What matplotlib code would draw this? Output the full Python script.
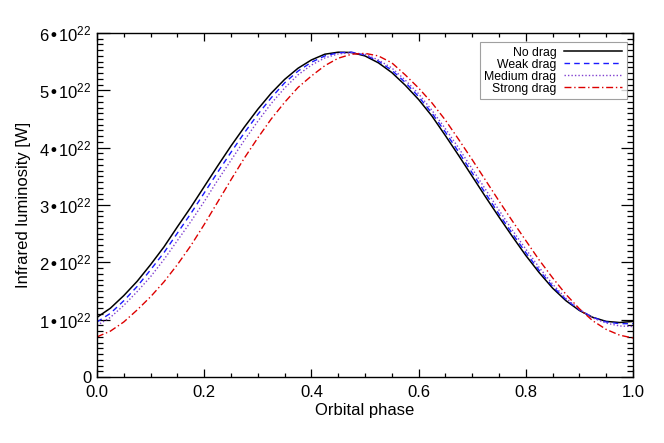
import matplotlib
matplotlib.use("Agg")
import matplotlib.pyplot as plt
from matplotlib.ticker import MultipleLocator

plt.rcParams['font.family'] = ['Liberation Sans', 'DejaVu Sans']
plt.rcParams['mathtext.default'] = 'regular'

phase = [0.000, 0.025, 0.050, 0.075, 0.100, 0.125, 0.150, 0.175, 0.200, 0.225,
         0.250, 0.275, 0.300, 0.325, 0.350, 0.375, 0.400, 0.425, 0.450, 0.475,
         0.500, 0.525, 0.550, 0.575, 0.600, 0.625, 0.650, 0.675, 0.700, 0.725,
         0.750, 0.775, 0.800, 0.825, 0.850, 0.875, 0.900, 0.925, 0.950, 0.975,
         1.000]
# luminosity in units of 1e22 W
no_drag = [1.04, 1.20, 1.42, 1.67, 1.96, 2.27, 2.62, 2.96, 3.32, 3.68,
           4.03, 4.36, 4.67, 4.95, 5.19, 5.385, 5.53, 5.63, 5.665, 5.66,
           5.60, 5.48, 5.31, 5.09, 4.84, 4.55, 4.21, 3.86, 3.50, 3.14,
           2.79, 2.45, 2.12, 1.82, 1.55, 1.33, 1.16, 1.04, 0.97, 0.95,
           0.97]
weak_drag = [0.96, 1.11, 1.33, 1.58, 1.87, 2.17, 2.51, 2.85, 3.21, 3.57,
             3.92, 4.26, 4.58, 4.87, 5.13, 5.335, 5.49, 5.60, 5.655, 5.665,
             5.615, 5.51, 5.35, 5.14, 4.89, 4.60, 4.27, 3.92, 3.56, 3.20,
             2.84, 2.50, 2.17, 1.86, 1.58, 1.35, 1.17, 1.04, 0.96, 0.93,
             0.93]
medium_drag = [0.90, 1.04, 1.25, 1.49, 1.75, 2.05, 2.38, 2.71, 3.06, 3.43,
               3.78, 4.13, 4.46, 4.77, 5.04, 5.27, 5.44, 5.565, 5.635, 5.655,
               5.63, 5.53, 5.39, 5.18, 4.94, 4.65, 4.33, 3.99, 3.63, 3.27,
               2.91, 2.56, 2.23, 1.91, 1.62, 1.37, 1.18, 1.03, 0.94, 0.89,
               0.88]
strong_drag = [0.70, 0.80, 0.96, 1.17, 1.40, 1.66, 1.96, 2.29, 2.66, 3.05,
               3.44, 3.82, 4.17, 4.50, 4.79, 5.05, 5.25, 5.43, 5.56, 5.63,
               5.645, 5.60, 5.48, 5.27, 5.04, 4.78, 4.48, 4.14, 3.79, 3.43,
               3.07, 2.72, 2.38, 2.04, 1.73, 1.44, 1.19, 0.98, 0.83, 0.73,
               0.68]

labels = ["No drag", "Weak drag", "Medium drag", "Strong drag"]
x_ticks = [0.0, 0.2, 0.4, 0.6, 0.8, 1.0]
x_ticklabels = ["0.0", "0.2", "0.4", "0.6", "0.8", "1.0"]
y_ticks = [0, 1, 2, 3, 4, 5, 6]
y_ticklabels = ["0"] + [r"%d•10$^{22}$" % v for v in y_ticks[1:]]

fig = plt.figure(figsize=(6.64, 4.43), dpi=100)
ax = fig.add_axes([97/664, 1 - 377/443, (633-97)/664, (377-33)/443])

ax.plot(phase, no_drag, color="black", lw=1.1, ls="-", label=labels[0])
ax.plot(phase, weak_drag, color="#1a1aff", lw=1.0, ls=(0, (4, 3)), label=labels[1])
ax.plot(phase, medium_drag, color="#8040d0", lw=1.0, ls=(0, (1, 1.5)), label=labels[2])
ax.plot(phase, strong_drag, color="#dd0000", lw=1.0, ls=(0, (5, 2, 1, 2)), label=labels[3])

ax.set_xlim(0, 1)
ax.set_ylim(0, 6)
ax.set_xticks(x_ticks)
ax.set_xticklabels(x_ticklabels)
ax.set_yticks(y_ticks)
ax.set_yticklabels(y_ticklabels)
ax.xaxis.set_minor_locator(MultipleLocator(0.05))
ax.yaxis.set_minor_locator(MultipleLocator(0.1))
ax.tick_params(axis='both', which='both', direction='in', top=True, right=True,
               labelsize=12, width=0.9, color='black')
ax.tick_params(axis='x', which='major', length=6, pad=6)
ax.tick_params(axis='x', which='minor', length=3)
ax.tick_params(axis='y', which='major', length=9, pad=4)
ax.tick_params(axis='y', which='minor', length=4.5)
for s in ax.spines.values():
    s.set_linewidth(1.0)

ax.set_xlabel("Orbital phase", fontsize=12, labelpad=2)
ax.set_ylabel("Infrared luminosity [W]", fontsize=12, labelpad=6)

leg = ax.legend(loc="upper right", bbox_to_anchor=(0.988, 0.973), markerfirst=False,
                fontsize=8.8, frameon=True, fancybox=False, handlelength=4.8,
                labelspacing=0.0, borderpad=0.35, handletextpad=0.6, borderaxespad=0)
leg.get_frame().set_edgecolor("#888888")
leg.get_frame().set_linewidth(0.8)

fig.savefig("out.png", dpi=100)
